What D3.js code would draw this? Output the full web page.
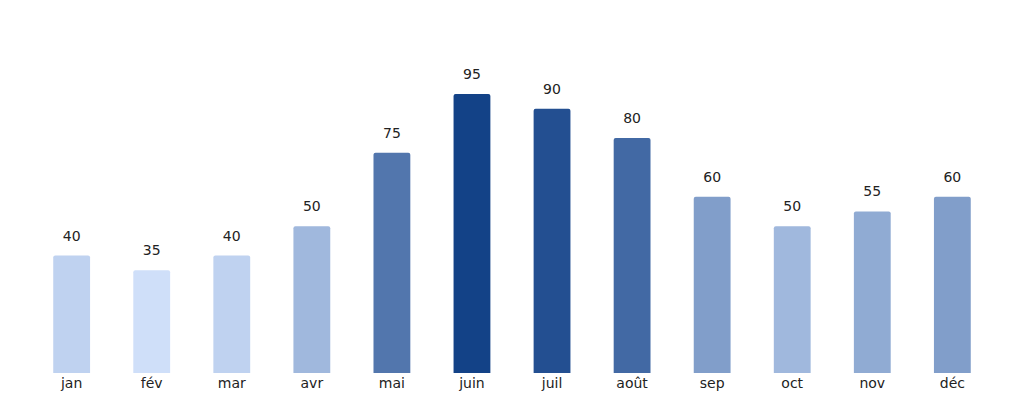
<!DOCTYPE html>
<html><head><meta charset="utf-8">
<script src="https://cdn.jsdelivr.net/npm/d3@7"></script>
<style>body{margin:0;background:#fff}text{font-family:"DejaVu Sans",sans-serif}</style>
</head><body><svg id="c" width="1024" height="404"></svg>
<script>
var months = ["jan","fév","mar","avr","mai","juin","juil","août","sep","oct","nov","déc"];
var values = [40,35,40,50,75,95,90,80,60,50,55,60];

var svg = d3.select("#c");
var x = d3.scaleBand().domain(months).range([10,1014]).padding(0.54);
var y = d3.scaleLinear().domain([0,95]).range([373,94]);
var color = d3.scaleLinear().domain([35,95]).range(["#cfdff9","#134287"]).interpolate(d3.interpolateRgb);

var g = svg.append("g");
g.selectAll("path.bar").data(values).enter().append("path")
  .attr("class","bar")
  .attr("fill", function(d){return color(d);})
  .attr("d", function(d,i){
    var x0 = x(months[i]), w = x.bandwidth(), t = y(d), b = y(0), r = 2;
    return "M"+x0+","+b+"V"+(t+r)+"Q"+x0+","+t+" "+(x0+r)+","+t+"H"+(x0+w-r)+"Q"+(x0+w)+","+t+" "+(x0+w)+","+(t+r)+"V"+b+"Z";
  });
g.selectAll("text.val").data(values).enter().append("text")
  .attr("class","val")
  .attr("x", function(d,i){return x(months[i])+x.bandwidth()/2;})
  .attr("y", function(d){return y(d)-15;})
  .attr("text-anchor","middle").attr("font-size",14).attr("fill","#222")
  .text(function(d){return d;});

var ax = svg.append("g").attr("transform","translate(0,373)")
  .call(d3.axisBottom(x).tickSize(0).tickPadding(5));
ax.select(".domain").remove();
ax.selectAll("text").attr("font-size",14).attr("fill","#222").style("font-family","DejaVu Sans");
</script></body></html>
